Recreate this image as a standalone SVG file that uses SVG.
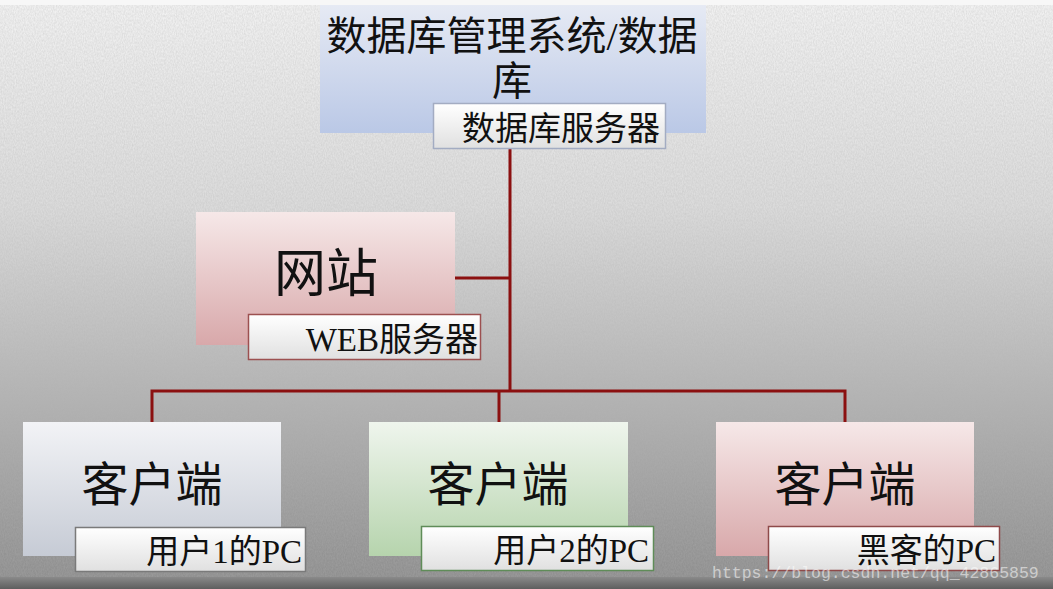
<svg xmlns="http://www.w3.org/2000/svg" width="1053" height="589" viewBox="0 0 1053 589">
<defs>
<linearGradient id="bg" x1="0" y1="0" x2="0" y2="1">
<stop offset="0" stop-color="#f3f3f3"/>
<stop offset="0.35" stop-color="#dcdcdc"/>
<stop offset="0.65" stop-color="#b6b6b6"/>
<stop offset="1" stop-color="#8c8c8c"/>
</linearGradient>
<linearGradient id="gBlue" x1="0" y1="0" x2="0" y2="1"><stop offset="0" stop-color="#e6eaf4"/><stop offset="1" stop-color="#bac8e6"/></linearGradient>
<linearGradient id="gPink" x1="0" y1="0" x2="0" y2="1"><stop offset="0" stop-color="#f6e8e8"/><stop offset="1" stop-color="#d8a8aa"/></linearGradient>
<linearGradient id="gGray" x1="0" y1="0" x2="0" y2="1"><stop offset="0" stop-color="#f2f3f6"/><stop offset="1" stop-color="#c6cbd5"/></linearGradient>
<linearGradient id="gGreen" x1="0" y1="0" x2="0" y2="1"><stop offset="0" stop-color="#eff5ed"/><stop offset="1" stop-color="#b6d4ad"/></linearGradient>
<linearGradient id="gSub" x1="0" y1="0" x2="0" y2="1"><stop offset="0" stop-color="#ffffff"/><stop offset="1" stop-color="#e0e0e0"/></linearGradient>
<linearGradient id="gBot" x1="0" y1="0" x2="0" y2="1"><stop offset="0" stop-color="#8a8a8a"/><stop offset="1" stop-color="#5e5e5e"/></linearGradient>
<filter id="noise" x="0" y="0" width="100%" height="100%">
<feTurbulence type="fractalNoise" baseFrequency="0.9 0.45" numOctaves="2" seed="3" result="t"/>
<feColorMatrix in="t" type="matrix" values="0 0 0 0 0.45  0 0 0 0 0.45  0 0 0 0 0.45  0 0 0 0.6 -0.12"/>
</filter>
</defs>
<style>
.cn{font-family:"Liberation Serif","Noto Sans CJK SC",serif;fill:#111;}
.conn{stroke:#8b1010;stroke-width:3;fill:none;}
.sub{fill:url(#gSub);stroke-width:1.5;}
.wm{font-family:"Liberation Mono","DejaVu Sans Mono",monospace;font-size:16.5px;fill:#ffffff;fill-opacity:0.55;}
</style>
<rect x="0" y="0" width="1053" height="589" fill="url(#bg)"/>
<rect x="0" y="0" width="1053" height="589" filter="url(#noise)" opacity="0.8"/>
<rect x="0" y="0" width="1053" height="5" fill="#f7f7f7"/>
<rect x="0" y="577" width="1053" height="12" fill="url(#gBot)"/>

<g id="connectors">
<path class="conn" d="M510 148 V391"/>
<path class="conn" d="M455 278 H510"/>
<path class="conn" d="M152 422 V391 H845 V422"/>
<path class="conn" d="M499 391 V422"/>
</g>

<g id="dbms">
<rect x="320" y="5" width="386" height="128" fill="url(#gBlue)"/>
<text class="cn" x="512" y="50" font-size="40" text-anchor="middle">数据库管理系统/数据</text>
<text class="cn" x="512" y="95" font-size="40" text-anchor="middle">库</text>
<rect class="sub" x="433.5" y="103.5" width="232" height="45" stroke="#a3acc2"/>
<text class="cn" x="660" y="140" font-size="33" text-anchor="end">数据库服务器</text>
</g>

<g id="website">
<rect x="196" y="212" width="259" height="133" fill="url(#gPink)"/>
<text class="cn" x="326" y="292" font-size="52" text-anchor="middle">网站</text>
<rect class="sub" x="248.5" y="314.5" width="232" height="45" stroke="#9c5050"/>
<text class="cn" x="478" y="351" font-size="33" text-anchor="end">WEB服务器</text>
</g>

<g id="client1">
<rect x="23" y="422" width="258" height="134" fill="url(#gGray)"/>
<text class="cn" x="152" y="501" font-size="47" text-anchor="middle">客户端</text>
<rect class="sub" x="75.5" y="527.5" width="230" height="44" stroke="#7a7a7a"/>
<text class="cn" x="302" y="563" font-size="33" text-anchor="end">用户1的PC</text>
</g>

<g id="client2">
<rect x="369" y="422" width="259" height="134" fill="url(#gGreen)"/>
<text class="cn" x="498" y="501" font-size="47" text-anchor="middle">客户端</text>
<rect class="sub" x="421.5" y="526.5" width="232" height="44" stroke="#5f8c58"/>
<text class="cn" x="649" y="562" font-size="33" text-anchor="end">用户2的PC</text>
</g>

<g id="client3">
<rect x="716" y="422" width="258" height="134" fill="url(#gPink)"/>
<text class="cn" x="845" y="501" font-size="47" text-anchor="middle">客户端</text>
<rect class="sub" x="768.5" y="526.5" width="231" height="44" stroke="#8e4a4a"/>
<text class="cn" x="996" y="562" font-size="33" text-anchor="end">黑客的PC</text>
</g>

<text class="wm" x="712" y="578">https://blog.csdn.net/qq_42865859</text>
</svg>
